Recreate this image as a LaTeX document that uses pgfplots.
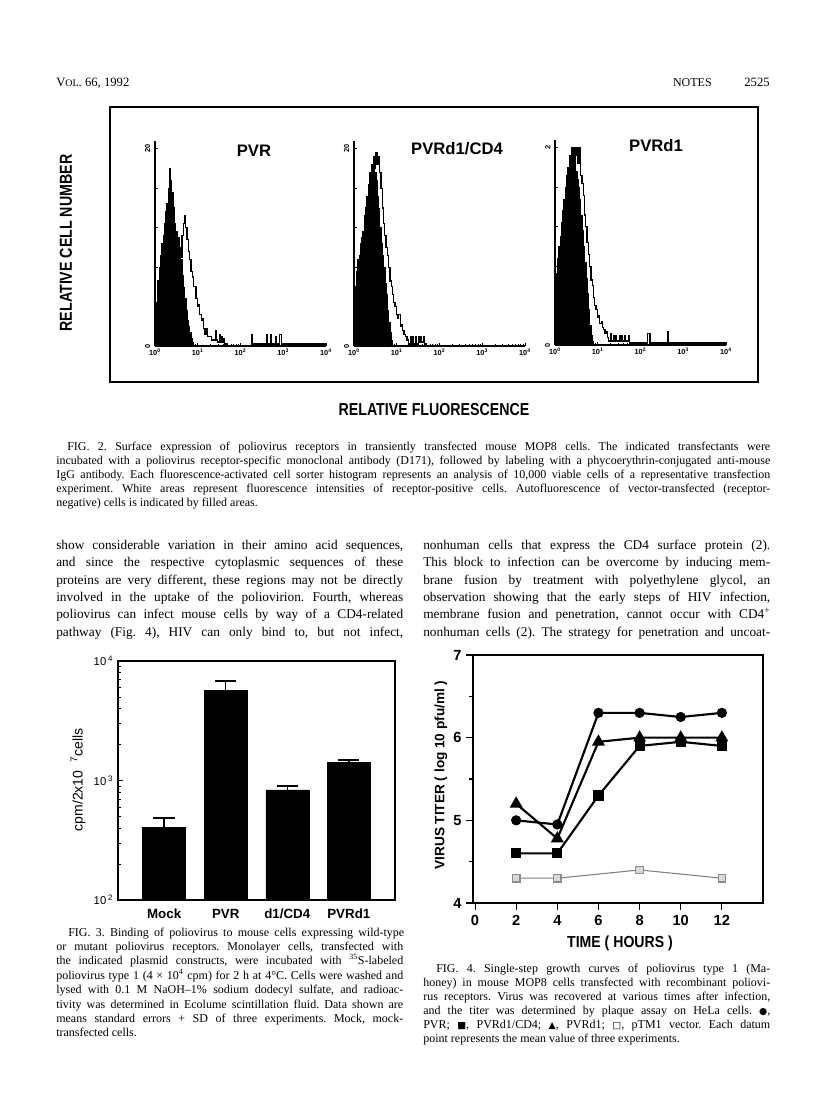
\documentclass[border=0pt]{standalone}
\usepackage{fontspec}
\setmainfont{Liberation Serif}
\setsansfont{Liberation Sans}
\newfontfamily\dejavu{DejaVu Sans}
\usepackage{pgfplots}
\pgfplotsset{compat=1.18}
\frenchspacing

% one justified line of a column (347 px = 260.25pt)
\newcommand{\cl}[1]{\makebox[260.25pt][s]{#1}}
\newcommand{\wl}[1]{\makebox[535.5pt][s]{#1}}
\newcommand{\sym}[1]{{\dejavu\fontsize{7}{8}\selectfont #1}}

\pgfplotsset{
  hist/.style={
    scale only axis, width=128.25pt, height=153.75pt,
    xmin=0, xmax=4, ymin=0, ymax=1.04,
    axis lines=left, axis line style={-, line width=0.8pt},
    xtick={0,1,2,3,4},
    xticklabels={10\textsuperscript{0},10\textsuperscript{1},10\textsuperscript{2},10\textsuperscript{3},10\textsuperscript{4}},
    minor xtick={0.301,0.477,0.602,0.699,0.778,0.845,0.903,0.954,
                 1.301,1.477,1.602,1.699,1.778,1.845,1.903,1.954,
                 2.301,2.477,2.602,2.699,2.778,2.845,2.903,2.954,
                 3.301,3.477,3.602,3.699,3.778,3.845,3.903,3.954},
    ytick={0,0.2,0.4,0.6,0.8,1},
    tick align=inside, major tick length=2.5pt, minor tick length=1.5pt,
    tick style={line width=0.6pt, black},
    xticklabel style={font=\sffamily\bfseries\fontsize{5.5}{6}\selectfont, yshift=1pt},
    yticklabel style={font=\sffamily\bfseries\fontsize{5.5}{6}\selectfont, rotate=90, anchor=south},
  },
  filled/.style={const plot, fill=black, draw=black, line width=0.4pt},
  outline/.style={const plot, black, line width=0.9pt},
}

\begin{document}
\begin{tikzpicture}
\path[use as bounding box, fill=white] (0,0) rectangle (612pt,-837.75pt);

% ---------------- Fig. 2: three FACS histograms ----------------
\begin{axis}[hist, at={(116.25pt,-105.75pt)}, anchor=north west, yticklabels={0,,,,,20}]
\addplot[filled] coordinates {(0.00,0.05)(0.03,0.22)(0.07,0.33)(0.10,0.40)(0.13,0.46)(0.16,0.52)(0.19,0.56)(0.22,0.62)(0.25,0.68)(0.28,0.72)(0.31,0.80)(0.34,0.90)(0.36,0.84)(0.39,0.78)(0.42,0.70)(0.45,0.62)(0.48,0.58)(0.51,0.55)(0.54,0.55)(0.57,0.50)(0.60,0.44)(0.63,0.36)(0.66,0.30)(0.69,0.24)(0.72,0.18)(0.75,0.13)(0.78,0.10)(0.81,0.07)(0.84,0.04)(0.87,0.02)(0.90,0.00)} \closedcycle;
\addplot[outline] coordinates {(0.00,0.05)(0.03,0.22)(0.07,0.33)(0.10,0.40)(0.13,0.46)(0.16,0.52)(0.19,0.56)(0.22,0.62)(0.25,0.68)(0.28,0.72)(0.31,0.80)(0.34,0.90)(0.36,0.84)(0.39,0.78)(0.42,0.70)(0.45,0.62)(0.48,0.58)(0.51,0.55)(0.54,0.55)(0.57,0.50)(0.60,0.45)(0.63,0.56)(0.66,0.62)(0.69,0.66)(0.72,0.60)(0.75,0.54)(0.78,0.48)(0.81,0.44)(0.84,0.38)(0.87,0.35)(0.90,0.30)(0.93,0.30)(0.96,0.24)(0.99,0.20)(1.02,0.21)(1.05,0.16)(1.08,0.13)(1.11,0.14)(1.14,0.09)(1.17,0.06)(1.20,0.09)(1.23,0.05)(1.26,0.05)(1.29,0.05)(1.32,0.03)(1.38,0.03)(1.41,0.08)(1.43,0.03)(1.47,0.02)(1.50,0.06)(1.52,0.02)(1.55,0.05)(1.57,0.02)(1.60,0.04)(1.62,0.01)(1.70,0.00)(2.25,0.06)(2.27,0.01)(2.35,0.01)(2.60,0.06)(2.62,0.01)(2.70,0.06)(2.72,0.01)(2.82,0.05)(2.84,0.01)(2.92,0.06)(2.95,0.01)(3.05,0.01)(4.00,0.01)};
\end{axis}

\begin{axis}[hist, at={(265.5pt,-105.75pt)}, anchor=north west, yticklabels={0,,,,,20}]
\addplot[filled] coordinates {(0.00,0.20)(0.03,0.30)(0.06,0.38)(0.09,0.44)(0.12,0.46)(0.15,0.52)(0.18,0.55)(0.21,0.58)(0.24,0.66)(0.27,0.70)(0.30,0.76)(0.33,0.82)(0.36,0.88)(0.39,0.85)(0.42,0.92)(0.45,0.96)(0.48,0.88)(0.51,0.84)(0.54,0.76)(0.57,0.70)(0.60,0.60)(0.63,0.52)(0.66,0.46)(0.69,0.40)(0.72,0.32)(0.75,0.26)(0.78,0.18)(0.81,0.12)(0.84,0.07)(0.87,0.03)(0.90,0.00)} \closedcycle;
\addplot[outline] coordinates {(0.00,0.20)(0.03,0.30)(0.06,0.38)(0.09,0.44)(0.12,0.46)(0.15,0.52)(0.18,0.55)(0.21,0.58)(0.24,0.66)(0.27,0.70)(0.30,0.76)(0.33,0.82)(0.36,0.88)(0.39,0.85)(0.42,0.92)(0.45,0.96)(0.48,0.90)(0.51,0.98)(0.54,0.92)(0.57,0.96)(0.60,0.88)(0.63,0.80)(0.66,0.70)(0.69,0.62)(0.72,0.56)(0.75,0.50)(0.78,0.46)(0.81,0.40)(0.84,0.33)(0.87,0.30)(0.90,0.26)(0.93,0.22)(0.96,0.20)(0.99,0.16)(1.02,0.14)(1.05,0.16)(1.08,0.10)(1.11,0.11)(1.14,0.08)(1.17,0.06)(1.20,0.05)(1.24,0.03)(1.28,0.01)(1.32,0.05)(1.34,0.01)(1.38,0.05)(1.40,0.01)(1.44,0.05)(1.46,0.01)(1.50,0.05)(1.52,0.02)(1.56,0.05)(1.58,0.02)(1.62,0.05)(1.64,0.01)(1.70,0.00)(4.00,0.00)};
\end{axis}

\begin{axis}[hist, at={(416.25pt,-105pt)}, anchor=north west, yticklabels={0,,,,,2}]
\addplot[filled] coordinates {(0.00,0.28)(0.03,0.36)(0.06,0.44)(0.09,0.50)(0.12,0.55)(0.15,0.62)(0.18,0.68)(0.21,0.74)(0.24,0.80)(0.27,0.86)(0.30,0.90)(0.33,0.96)(0.36,0.92)(0.39,1.00)(0.42,0.94)(0.45,1.00)(0.48,0.88)(0.51,0.84)(0.54,0.80)(0.57,0.74)(0.60,0.66)(0.63,0.58)(0.66,0.50)(0.69,0.42)(0.72,0.34)(0.75,0.26)(0.78,0.18)(0.81,0.10)(0.84,0.05)(0.87,0.02)(0.90,0.00)} \closedcycle;
\addplot[outline] coordinates {(0.00,0.28)(0.03,0.36)(0.06,0.44)(0.09,0.50)(0.12,0.55)(0.15,0.62)(0.18,0.68)(0.21,0.74)(0.24,0.80)(0.27,0.86)(0.30,0.90)(0.33,0.96)(0.36,0.92)(0.39,1.00)(0.42,0.94)(0.45,1.00)(0.48,0.96)(0.51,1.00)(0.54,0.92)(0.57,1.00)(0.60,0.86)(0.63,0.82)(0.66,0.76)(0.69,0.66)(0.72,0.60)(0.75,0.52)(0.78,0.46)(0.81,0.40)(0.84,0.33)(0.87,0.30)(0.90,0.24)(0.93,0.20)(0.96,0.18)(0.99,0.14)(1.02,0.15)(1.05,0.11)(1.08,0.12)(1.11,0.09)(1.14,0.08)(1.17,0.06)(1.20,0.07)(1.23,0.04)(1.26,0.02)(1.29,0.06)(1.31,0.02)(1.36,0.05)(1.38,0.02)(1.42,0.05)(1.44,0.02)(1.50,0.05)(1.52,0.02)(1.56,0.05)(1.58,0.02)(1.62,0.05)(1.64,0.02)(1.72,0.05)(1.74,0.01)(1.84,0.01)(2.17,0.06)(2.20,0.06)(2.22,0.01)(2.60,0.01)(2.63,0.07)(2.65,0.01)(4.00,0.01)};
\end{axis}

% ---------------- Fig. 3: binding, log bars ----------------
\begin{axis}[at={(88.5pt,-495.75pt)}, anchor=north west, scale only axis,
  width=207.75pt, height=179.25pt,
  ymode=log, ymin=100, ymax=10000, xmin=-0.75, xmax=3.75,
  ybar, bar width=32.25pt,
  axis line style={line width=0.9pt},
  xtick={0,1,2,3}, xticklabels={Mock,PVR,d1/CD4,PVRd1},
  xtick style={draw=none},
  xticklabel style={font=\sffamily\bfseries\fontsize{10}{10}\selectfont, text height=7.5pt, text depth=0pt, yshift=-3pt},
  ytick={100,1000,10000},
  yticklabels={10\,\textsuperscript{2},10\,\textsuperscript{3},10\,\textsuperscript{4}},
  yticklabel style={font=\sffamily\fontsize{8.5}{9}\selectfont},
  ytick pos=left, tick align=inside,
  major tick length=4pt, minor tick length=2pt,
  tick style={line width=0.6pt, black},
]
\addplot[fill=black, draw=black,
  error bars/.cd, y dir=plus, y explicit,
  error bar style={line width=1.1pt, black},
  error mark=-,
  error mark options={rotate=90, line width=1.1pt, mark size=8pt, black}]
  coordinates {(0,406) +- (0,80) (1,5700) +- (0,1075) (2,836) +- (0,60) (3,1413) +- (0,73)};
\end{axis}

% ---------------- Fig. 4: growth curves ----------------
\begin{axis}[at={(354.75pt,-491.25pt)}, anchor=north west, scale only axis,
  width=217.5pt, height=186pt,
  xmin=-0.1, xmax=14, ymin=4, ymax=7,
  axis line style={line width=0.9pt},
  xtick={0,2,4,6,8,10,12}, xticklabels={0,2,4,6,8,10,12},
  ytick={4,5,6,7}, yticklabels={4,5,6,7}, minor ytick={4.5,5.5,6.5},
  xtick pos=left, ytick pos=left, tick align=outside,
  major tick length=5pt, minor tick length=3pt,
  tick style={line width=0.8pt, black},
  ticklabel style={font=\sffamily\bfseries\fontsize{11}{11}\selectfont},
  xticklabel style={yshift=-1pt},
]
\addplot[gray, line width=0.8pt, mark=square*, mark size=2.8pt,
  mark options={fill=gray!30, draw=gray!90, line width=0.9pt}]
  coordinates {(2,4.3)(4,4.3)(8,4.4)(12,4.3)};
\addplot[black, line width=1.6pt, mark=square*, mark size=3pt, mark options={solid}]
  coordinates {(2,4.6)(4,4.6)(6,5.3)(8,5.9)(10,5.95)(12,5.9)};
\addplot[black, line width=1.6pt, mark=triangle*, mark size=4pt, mark options={solid}]
  coordinates {(2,5.2)(4,4.78)(6,5.95)(8,6.0)(10,6.0)(12,6.0)};
\addplot[black, line width=1.6pt, mark=*, mark size=3pt, mark options={solid}]
  coordinates {(2,5.0)(4,4.95)(6,6.3)(8,6.3)(10,6.25)(12,6.3)};
\end{axis}

% ---------------- page text, in pixel units of the scan ----------------
\begin{scope}[x=0.75pt, y=-0.75pt]
\node[anchor=base west, inner sep=0, font=\fontsize{9.5}{11}\selectfont] at (56,86) {V{\fontsize{7.5}{9}\selectfont OL}. 66, 1992};
\node[anchor=base east, inner sep=0, font=\fontsize{9}{11}\selectfont] at (712,86) {NOTES};
\node[anchor=base east, inner sep=0, font=\fontsize{9.5}{11}\selectfont] at (770,86) {2525};

\draw[line width=1pt] (110,107) rectangle (758,382);
\node[rotate=90, font=\sffamily\bfseries\fontsize{13}{13}\selectfont] at (66,243) {\scalebox{0.82}[1]{RELATIVE CELL NUMBER}};
\node[font=\sffamily\bfseries\fontsize{12.5}{12.5}\selectfont] at (254,151) {PVR};
\node[font=\sffamily\bfseries\fontsize{12.5}{12.5}\selectfont] at (457,149) {PVRd1/CD4};
\node[font=\sffamily\bfseries\fontsize{12.5}{12.5}\selectfont] at (656,146) {PVRd1};
\node[font=\sffamily\bfseries\fontsize{13}{13}\selectfont] at (434,410) {\scalebox{0.82}[1]{RELATIVE FLUORESCENCE}};

% Fig. 2 caption
\begin{scope}[every node/.style={anchor=base west, inner sep=0, font=\fontsize{9}{10}\selectfont}]
\node at (67,450) {\makebox[527.25pt][s]{FIG. 2. Surface expression of poliovirus receptors in transiently transfected mouse MOP8 cells. The indicated transfectants were}};
\node at (56,464) {\wl{incubated with a poliovirus receptor-specific monoclonal antibody (D171), followed by labeling with a phycoerythrin-conjugated anti-mouse}};
\node at (56,478) {\wl{IgG antibody. Each fluorescence-activated cell sorter histogram represents an analysis of 10,000 viable cells of a representative transfection}};
\node at (56,492) {\wl{experiment. White areas represent fluorescence intensities of receptor-positive cells. Autofluorescence of vector-transfected (receptor-}};
\node at (56,506) {negative) cells is indicated by filled areas.};
\end{scope}

% body text, two columns
\begin{scope}[every node/.style={anchor=base west, inner sep=0, font=\fontsize{10}{12}\selectfont}]
\node at (56,549) {\cl{show considerable variation in their amino acid sequences,}};
\node at (56,566.5) {\cl{and since the respective cytoplasmic sequences of these}};
\node at (56,584) {\cl{proteins are very different, these regions may not be directly}};
\node at (56,601) {\cl{involved in the uptake of the poliovirion. Fourth, whereas}};
\node at (56,618.5) {\cl{poliovirus can infect mouse cells by way of a CD4-related}};
\node at (56,636) {\cl{pathway (Fig. 4), HIV can only bind to, but not infect,}};
\node at (423,549) {\cl{nonhuman cells that express the CD4 surface protein (2).}};
\node at (423,566.5) {\cl{This block to infection can be overcome by inducing mem-}};
\node at (423,584) {\cl{brane fusion by treatment with polyethylene glycol, an}};
\node at (423,601) {\cl{observation showing that the early steps of HIV infection,}};
\node at (423,618.5) {\cl{membrane fusion and penetration, cannot occur with CD4\textsuperscript{+}}};
\node at (423,636) {\cl{nonhuman cells (2). The strategy for penetration and uncoat-}};
\end{scope}

% Fig. 3 and Fig. 4 axis titles
\node[rotate=90, font=\sffamily\fontsize{10.5}{10.5}\selectfont] at (78,780) {cpm/2x10\ \ \textsuperscript{7}cells};
\node[rotate=90, font=\sffamily\bfseries\fontsize{10.2}{10.2}\selectfont] at (441,775) {VIRUS TITER ( log 10 pfu/ml )};
\node[font=\sffamily\bfseries\fontsize{12}{12}\selectfont] at (620,943) {\scalebox{0.88}[1]{TIME ( HOURS )}};

% Fig. 3 caption
\begin{scope}[every node/.style={anchor=base west, inner sep=0, font=\fontsize{9}{10}\selectfont}]
\node at (68,936) {\makebox[252pt][s]{FIG. 3. Binding of poliovirus to mouse cells expressing wild-type}};
\node at (56,950.4) {\cl{or mutant poliovirus receptors. Monolayer cells, transfected with}};
\node at (56,964.8) {\cl{the indicated plasmid constructs, were incubated with \textsuperscript{35}S-labeled}};
\node at (56,979.2) {\cl{poliovirus type 1 (4 × 10\textsuperscript{4} cpm) for 2 h at 4°C. Cells were washed and}};
\node at (56,993.6) {\cl{lysed with 0.1 M NaOH–1\% sodium dodecyl sulfate, and radioac-}};
\node at (56,1008) {\cl{tivity was determined in Ecolume scintillation fluid. Data shown are}};
\node at (56,1022.4) {\cl{means standard errors + SD of three experiments. Mock, mock-}};
\node at (56,1036.8) {transfected cells.};
\end{scope}

% Fig. 4 caption
\begin{scope}[every node/.style={anchor=base west, inner sep=0, font=\fontsize{9}{10}\selectfont}]
\node at (436,972) {\makebox[250.5pt][s]{FIG. 4. Single-step growth curves of poliovirus type 1 (Ma-}};
\node at (423,986) {\cl{honey) in mouse MOP8 cells transfected with recombinant poliovi-}};
\node at (423,1000) {\cl{rus receptors. Virus was recovered at various times after infection,}};
\node at (423,1014) {\cl{and the titer was determined by plaque assay on HeLa cells. \sym{●},}};
\node at (423,1028) {\cl{PVR; \sym{■}, PVRd1/CD4; \sym{▲}, PVRd1; \sym{□}, pTM1 vector. Each datum}};
\node at (423,1042) {point represents the mean value of three experiments.};
\end{scope}
\end{scope}
\end{tikzpicture}
\end{document}
